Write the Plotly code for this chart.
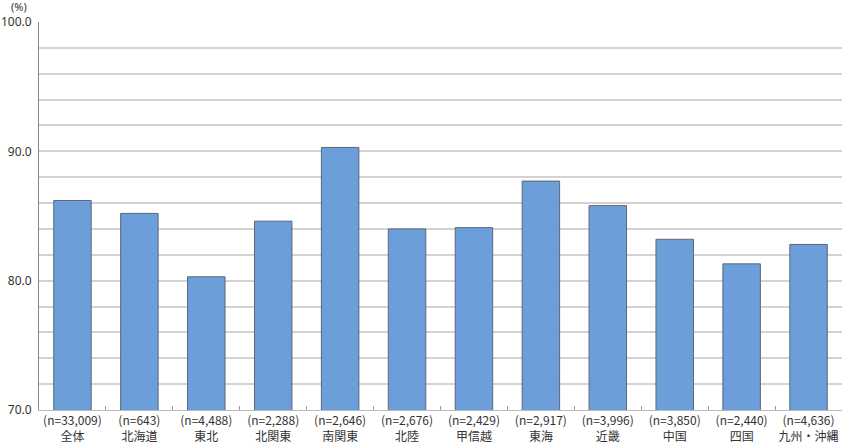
import plotly.graph_objects as go

regions = ["全体", "北海道", "東北", "北関東", "南関東", "北陸", "甲信越", "東海", "近畿", "中国", "四国", "九州・沖縄"]
sample_sizes = ["33,009", "643", "4,488", "2,288", "2,646", "2,676", "2,429", "2,917", "3,996", "3,850", "2,440", "4,636"]
values = [86.2, 85.2, 80.3, 84.6, 90.3, 84.0, 84.1, 87.7, 85.8, 83.2, 81.3, 82.8]
y_ticks = [70, 80, 90, 100]
y_tick_labels = ["70.0", "80.0", "90.0", "100.0"]

labels = [f"(n={n})<br>{r}" for n, r in zip(sample_sizes, regions)]

font_family = "Noto Sans CJK JP, Noto Sans, sans-serif"
latin_family = "Noto Sans, DejaVu Sans, sans-serif"

fig = go.Figure(go.Bar(
    x=labels, y=values,
    marker=dict(color="#6c9fd9", line=dict(color="#5b6678", width=1)),
    hoverinfo="skip",
))

fig.update_layout(
    width=843, height=443,
    margin=dict(l=39, r=1, t=22, b=33),
    paper_bgcolor="white", plot_bgcolor="white",
    bargap=0.44,
    showlegend=False,
    font=dict(family=font_family, color="#333333", size=12),
    xaxis=dict(
        type="category",
        tickangle=0, automargin=False,
        ticks="inside", tickson="boundaries", ticklen=4, tickcolor="#999999",
        showline=True, linecolor="#bbbbbb", linewidth=1,
        showgrid=False,
        ticklabelstandoff=0,
        tickfont=dict(size=12, color="#333333"),
        fixedrange=True,
    ),
    yaxis=dict(
        range=[70, 100], automargin=False,
        tickvals=y_ticks, ticktext=y_tick_labels,
        showgrid=True, gridcolor="#d3d3d3", gridwidth=1.5,
        minor=dict(dtick=2, tick0=70, showgrid=True, gridcolor="#d3d3d3", gridwidth=1.5),
        showline=True, linecolor="#888888", linewidth=1,
        ticks="", ticklabelstandoff=4,
        tickfont=dict(size=12, color="#333333", family=latin_family),
        zeroline=False,
        fixedrange=True,
    ),
    annotations=[dict(
        text="(%)", xref="paper", yref="paper", x=-0.036, y=1.0, yshift=7,
        xanchor="left", yanchor="bottom", showarrow=False, borderpad=0,
        font=dict(size=11, color="#333333", family=latin_family),
    )],
)

fig.write_html("out.html", config={"displayModeBar": False},
               post_script="document.body.style.margin='0';document.body.style.padding='0';")
